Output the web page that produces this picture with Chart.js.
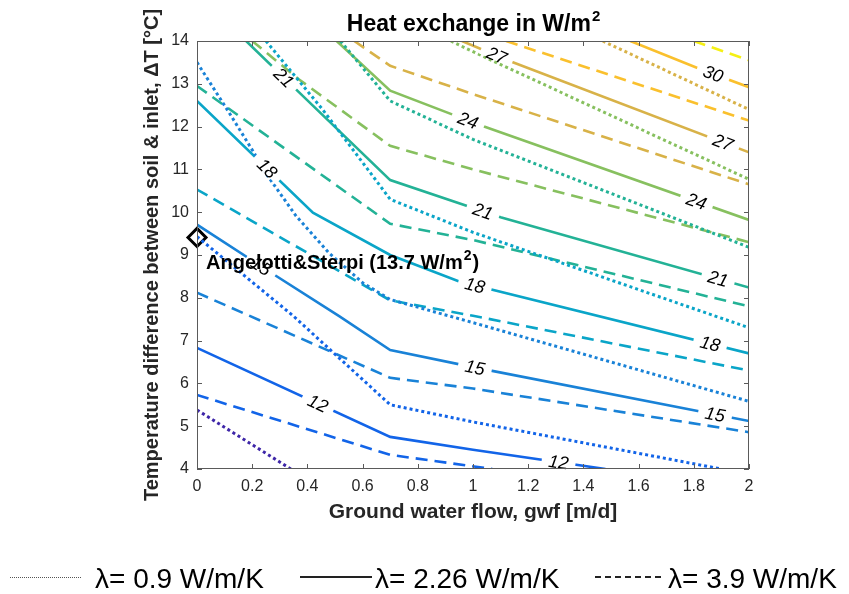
<!DOCTYPE html>
<html>
<head>
<meta charset="utf-8">
<script src="https://cdn.jsdelivr.net/npm/chart.js@4.4.1/dist/chart.umd.min.js"></script>
<style>
	body { margin: 0; background: #fff; }
	#wrap { position: relative; width: 849px; height: 594px; }
	#grafica { position: absolute; left: 0; top: 0; }
	.key { position: absolute; top: 565px; font-family: "Liberation Sans", Arial, sans-serif; font-size: 28px; line-height: 1; color: #000; white-space: nowrap; }
	.sample { position: absolute; width: 72px; }
</style>
</head>
<body>
<div id="wrap">
	<canvas id="grafica" width="849" height="594"></canvas>
	<div class="sample" style="left:10px; top:577px; height:1px; background: repeating-linear-gradient(to right, #555 0 1px, transparent 1px 2px);"></div>
	<div class="key" style="left:95px">λ= 0.9 W/m/K</div>
	<div class="sample" style="left:300px; top:576px; height:2px; background:#222;"></div>
	<div class="key" style="left:375px">λ= 2.26 W/m/K</div>
	<div class="sample" style="left:595px; top:576px; width:70px; height:2px; background: repeating-linear-gradient(to right, #222 0 6px, transparent 6px 10px);"></div>
	<div class="key" style="left:668px">λ= 3.9 W/m/K</div>
</div>
<script>

var xTicks = [0, 0.2, 0.4, 0.6, 0.8, 1, 1.2, 1.4, 1.6, 1.8, 2];
var yTicks = [4, 5, 6, 7, 8, 9, 10, 11, 12, 13, 14];

// contour levels in W/m2 and their colour
var niveles = [9, 12, 15, 18, 21, 24, 27, 30, 33];
var colores = ['rgb(62,38,168)', 'rgb(18,100,232)', 'rgb(25,130,215)', 'rgb(10,165,200)', 'rgb(35,178,150)',
	'rgb(135,192,95)', 'rgb(216,178,72)', 'rgb(250,192,45)', 'rgb(245,240,20)'];

// lambda = 0.9 W/m/K (dotted) -> [gwf, dT]
var dot9  = [[0, 5.38], [0.34, 4.0]];
var dot12 = [[0, 9.43], [0.35, 7.57], [0.7, 5.5], [1.0, 5.1], [1.9, 4.0]];
var dot15 = [[0, 13.5], [0.116, 12.33], [0.214, 11.31], [0.256, 10.85], [0.359, 9.91], [0.478, 9.05], [0.6, 8.35], [0.7, 7.96], [1.0, 7.42], [2.0, 5.58]];
var dot18 = [[0.25, 14], [0.455, 12.4], [0.627, 10.93], [0.7, 10.3], [1.0, 9.53], [2.0, 7.3]];
var dot21 = [[0.52, 14], [0.7, 12.6], [1.0, 11.7], [2.0, 9.18]];
var dot24 = [[0.92, 14], [1.0, 13.75], [2.0, 10.77]];
var dot27 = [[1.47, 14], [2.0, 12.4]];

// lambda = 2.26 W/m/K (solid)
var sol12 = [[0, 6.83], [0.7, 4.75], [1.0, 4.45], [1.48, 4.0]];
var sol15 = [[0, 9.71], [0.27, 8.58], [0.515, 7.57], [0.7, 6.78], [1.0, 6.38], [2.0, 5.12]];
var sol18 = [[0, 12.6], [0.42, 9.99], [0.7, 9.0], [0.95, 8.38], [2.0, 6.7]];
var sol21 = [[0.178, 14], [0.37, 12.8], [0.7, 10.75], [1.1, 9.88], [2.0, 8.24]];
var sol24 = [[0.506, 14], [0.7, 12.84], [1.04, 12.0], [2.0, 9.82]];
var sol27 = [[0.96, 14], [1.13, 13.54], [2.0, 11.4]];
var sol30 = [[1.57, 14], [1.82, 13.35], [2.0, 12.92]];

// lambda = 3.9 W/m/K (dashed)
var dash12 = [[0, 5.73], [0.7, 4.33], [1.07, 4.0]];
var dash15 = [[0, 8.12], [0.7, 6.13], [1.0, 5.88], [2.0, 4.86]];
var dash18 = [[0, 10.53], [0.7, 7.94], [1.0, 7.58], [2.0, 6.3]];
var dash21 = [[0, 12.95], [0.7, 9.73], [1.0, 9.35], [2.0, 7.8]];
var dash24 = [[0.2, 14], [0.37, 13.1], [0.7, 11.55], [1.0, 11.0], [2.0, 9.3]];
var dash27 = [[0.57, 14], [0.7, 13.42], [1.0, 12.76], [2.0, 10.65]];
var dash30 = [[1.12, 14], [2.0, 12.14]];
var dash33 = [[1.8, 14], [2.0, 13.55]];

// inline labels on the solid contours (level, gwf)
var etiquetaNivel = [12, 12, 15, 15, 15, 18, 18, 18, 21, 21, 21, 24, 24, 27, 27, 30];
var etiquetaX     = [0.438, 1.31, 0.232, 1.007, 1.877, 0.254, 1.007, 1.859, 0.315, 1.036, 1.888, 0.982, 1.81, 1.086, 1.906, 1.87];

// reference point
var refX = 0;
var refY = 9.41;
var refNombre = 'Angelotti&Sterpi';
var refValor = 13.7;

var solidas = {12: sol12, 15: sol15, 18: sol18, 21: sol21, 24: sol24, 27: sol27, 30: sol30};

function colorNivel(n){
	return colores[niveles.indexOf(n)];
}

function linea(puntos, nivel, tipo){
	var dash = [];
	var ancho = 2.6;
	if (tipo == 'dot') { dash = [3, 3]; ancho = 3; }
	if (tipo == 'dash') { dash = [12, 7]; }
	return {
		data: puntos.map(function(p){ return {x: p[0], y: p[1]}; }),
		showLine: true,
		borderColor: colorNivel(nivel),
		borderWidth: ancho,
		borderDash: dash,
		borderCapStyle: 'butt',
		pointRadius: 0,
		tension: 0
	};
}

var datasets = [
	linea(dot9, 9, 'dot'), linea(dot12, 12, 'dot'), linea(dot15, 15, 'dot'), linea(dot18, 18, 'dot'),
	linea(dot21, 21, 'dot'), linea(dot24, 24, 'dot'), linea(dot27, 27, 'dot'),
	linea(dash12, 12, 'dash'), linea(dash15, 15, 'dash'), linea(dash18, 18, 'dash'), linea(dash21, 21, 'dash'),
	linea(dash24, 24, 'dash'), linea(dash27, 27, 'dash'), linea(dash30, 30, 'dash'), linea(dash33, 33, 'dash'),
	linea(sol12, 12, 'sol'), linea(sol15, 15, 'sol'), linea(sol18, 18, 'sol'), linea(sol21, 21, 'sol'),
	linea(sol24, 24, 'sol'), linea(sol27, 27, 'sol'), linea(sol30, 30, 'sol'),
	{
		data: [{x: refX, y: refY}],
		pointStyle: 'rectRot',
		pointRadius: 9,
		pointBorderWidth: 3,
		pointBorderColor: '#000',
		pointBackgroundColor: '#fff',
		showLine: false,
		clip: false
	}
];

var FUENTE = '"Liberation Sans", Arial, sans-serif';

var etiquetas = {
	id: 'etiquetas',
	afterDatasetsDraw: function(chart){
		var ctx = chart.ctx, sx = chart.scales.x, sy = chart.scales.y;
		ctx.save();
		ctx.font = 'italic 18px ' + FUENTE;
		ctx.textAlign = 'center';
		ctx.textBaseline = 'middle';
		for (var i = 0; i < etiquetaX.length; i++) {
			var pts = solidas[etiquetaNivel[i]];
			var j = 0;
			for (j = 0; j < pts.length - 2; j++) {
				if (etiquetaX[i] <= pts[j + 1][0]) break;
			}
			var a = pts[j], b = pts[j + 1];
			var t = (etiquetaX[i] - a[0]) / (b[0] - a[0]);
			var yv = a[1] + t * (b[1] - a[1]);
			var px = sx.getPixelForValue(etiquetaX[i]);
			var py = sy.getPixelForValue(yv);
			var ang = Math.atan2(sy.getPixelForValue(b[1]) - sy.getPixelForValue(a[1]), sx.getPixelForValue(b[0]) - sx.getPixelForValue(a[0]));
			var txt = String(etiquetaNivel[i]);
			var w = ctx.measureText(txt).width;
			ctx.save();
			ctx.translate(px, py);
			ctx.rotate(ang);
			ctx.fillStyle = '#fff';
			ctx.fillRect(-w / 2 - 7, -5, w + 14, 10);
			ctx.fillStyle = '#000';
			ctx.fillText(txt, 0, 1);
			ctx.restore();
		}
		ctx.restore();
	},
	afterDraw: function(chart){
		var ctx = chart.ctx, area = chart.chartArea, sx = chart.scales.x, sy = chart.scales.y;
		ctx.save();

		// frame and inward ticks
		ctx.strokeStyle = 'rgb(90,90,90)';
		ctx.lineWidth = 1;
		ctx.strokeRect(area.left + 0.5, area.top + 0.5, area.right - area.left - 1, area.bottom - area.top - 1);
		ctx.beginPath();
		xTicks.forEach(function(v){
			var p = Math.round(sx.getPixelForValue(v)) + 0.5;
			ctx.moveTo(p, area.bottom); ctx.lineTo(p, area.bottom - 5);
			ctx.moveTo(p, area.top); ctx.lineTo(p, area.top + 5);
		});
		yTicks.forEach(function(v){
			var p = Math.round(sy.getPixelForValue(v)) + 0.5;
			ctx.moveTo(area.left, p); ctx.lineTo(area.left + 5, p);
			ctx.moveTo(area.right, p); ctx.lineTo(area.right - 5, p);
		});
		ctx.stroke();

		// title with superscript
		ctx.fillStyle = '#000';
		ctx.textBaseline = 'alphabetic';
		ctx.textAlign = 'left';
		ctx.font = 'bold 23px ' + FUENTE;
		var t1 = 'Heat exchange in W/m';
		var w1 = ctx.measureText(t1).width;
		ctx.font = 'bold 15px ' + FUENTE;
		var w2 = ctx.measureText('2').width;
		var x0 = (area.left + area.right) / 2 - (w1 + w2) / 2;
		ctx.font = 'bold 23px ' + FUENTE;
		ctx.fillText(t1, x0, 31);
		ctx.font = 'bold 15px ' + FUENTE;
		ctx.fillText('2', x0 + w1 + 1, 21);

		// y axis title
		ctx.save();
		ctx.translate(152, (area.top + area.bottom) / 2);
		ctx.rotate(-Math.PI / 2);
		ctx.textAlign = 'center';
		ctx.textBaseline = 'middle';
		ctx.font = 'bold 20px ' + FUENTE;
		ctx.fillStyle = 'rgb(38,38,38)';
		ctx.fillText('Temperature difference between soil & inlet, \u0394T [\u00B0C]', 0, 0);
		ctx.restore();

		// reference annotation
		var ax = sx.getPixelForValue(refX) + 9;
		var ay = sy.getPixelForValue(refY) + 32;
		ctx.textAlign = 'left';
		ctx.font = 'bold 20px ' + FUENTE;
		var a1 = refNombre + ' (' + refValor + ' W/m';
		ctx.fillText(a1, ax, ay);
		var wa = ctx.measureText(a1).width;
		ctx.font = 'bold 14px ' + FUENTE;
		ctx.fillText('2', ax + wa + 1, ay - 9);
		var wb = ctx.measureText('2').width;
		ctx.font = 'bold 20px ' + FUENTE;
		ctx.fillText(')', ax + wa + wb + 2, ay);

		ctx.restore();
	}
};

var grafica = new Chart(document.getElementById('grafica'), {
	type: 'scatter',
	data: { datasets: datasets },
	options: {
		responsive: false,
		animation: false,
		devicePixelRatio: 1,
		layout: { padding: { left: 141, right: 100, top: 41, bottom: 69 } },
		plugins: { legend: { display: false }, tooltip: { enabled: false } },
		scales: {
			x: {
				type: 'linear',
				min: 0,
				max: 2,
				afterBuildTicks: function(scale){ scale.ticks = xTicks.map(function(v){ return {value: v}; }); },
				afterFit: function(scale){ scale.height = 56; },
				ticks: {
					callback: function(v){ return String(v); },
					font: { family: FUENTE, size: 16 },
					color: 'rgb(38,38,38)',
					padding: 0,
					maxRotation: 0,
					autoSkip: false
				},
				grid: { display: false },
				border: { display: false },
				title: {
					display: true,
					text: 'Ground water flow, gwf [m/d]',
					font: { family: FUENTE, size: 21, weight: 'bold' },
					color: 'rgb(38,38,38)',
					padding: 0
				}
			},
			y: {
				type: 'linear',
				min: 4,
				max: 14,
				afterBuildTicks: function(scale){ scale.ticks = yTicks.map(function(v){ return {value: v}; }); },
				afterFit: function(scale){ scale.width = 56; },
				ticks: {
					callback: function(v){ return String(v); },
					font: { family: FUENTE, size: 16 },
					color: 'rgb(38,38,38)',
					padding: 0,
					autoSkip: false
				},
				grid: { display: false },
				border: { display: false }
			}
		}
	},
	plugins: [etiquetas]
});

</script>
</body>
</html>
